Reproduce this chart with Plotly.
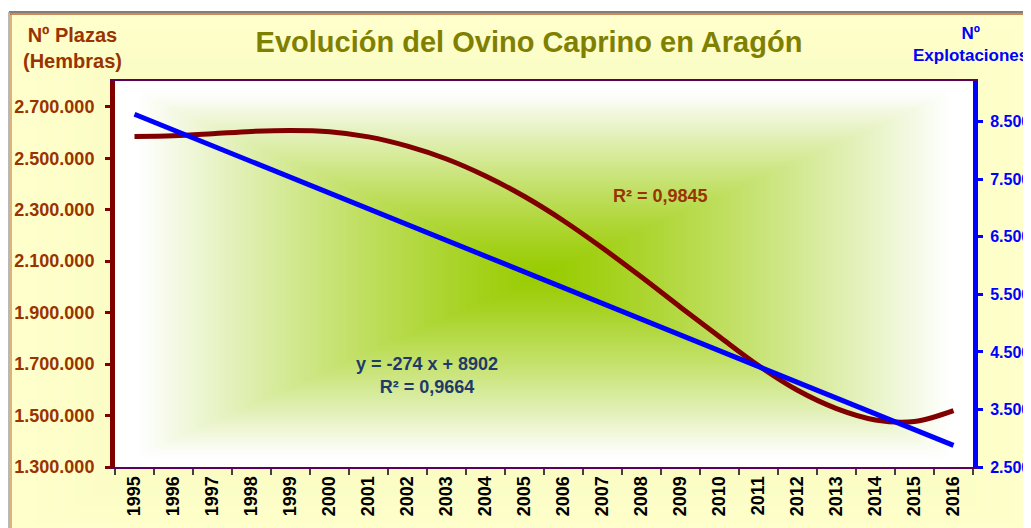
import base64
import struct
import zlib

import plotly.graph_objects as go

# data
years = [str(y) for y in range(1995, 2017)]
plazas = [2584000, 2587000, 2595000, 2604000, 2608000, 2603000, 2583000, 2547000,
          2497000, 2431000, 2351000, 2257000, 2151000, 2038000, 1921000, 1806000,
          1694000, 1598000, 1527000, 1483000, 1477000, 1519000]
explotaciones = [8630, 8355, 8080, 7810, 7535, 7260, 6985, 6710, 6440, 6165, 5890,
                 5615, 5340, 5070, 4795, 4520, 4245, 3970, 3700, 3425, 3150, 2875]
eq_text = "y = -274 x + 8902<br>R² = 0,9664"
r2_text = "R² = 0,9845"

# the page body has an 8px margin, so the figure starts at (8, 8)
OFF = 8
FW, FH = 1031 - OFF, 528 - OFF
# plot area in page pixels
L, R, T, B = 115, 973, 81, 467
W, H = R - L, B - T


def px_x(x):
    return (x - L) / W


def px_y(y):
    return (B - y) / H


def png_uri(w, h, fn):
    raw = b"".join(b"\x00" + bytes(c for x in range(w) for c in fn(x, y)) for y in range(h))

    def chunk(t, d):
        return struct.pack(">I", len(d)) + t + d + struct.pack(">I", zlib.crc32(t + d) & 0xffffffff)

    png = (b"\x89PNG\r\n\x1a\n" + chunk(b"IHDR", struct.pack(">IIBBBBB", w, h, 8, 2, 0, 0, 0))
           + chunk(b"IDAT", zlib.compress(raw, 9)) + chunk(b"IEND", b""))
    return "data:image/png;base64," + base64.b64encode(png).decode()


def from_center(w, h, inner, outer, scale=1.0, gamma=1.0):
    def fn(x, y):
        dx = abs(x - (w - 1) / 2) / ((w - 1) / 2)
        dy = abs(y - (h - 1) / 2) / ((h - 1) / 2)
        t = min(1.0, max(dx, dy) / scale) ** gamma
        return tuple(int(round(a + (b - a) * t)) for a, b in zip(inner, outer))
    return fn


plot_bg = png_uri(143, 65, from_center(143, 65, (153, 204, 0), (255, 255, 255), 0.95, 1.2))
panel_bg = png_uri(104, 54, from_center(104, 54, (236, 244, 170), (255, 255, 204)))

red = "#800000"
brown = "#993300"
blue = "#0000FF"

fig = go.Figure()
fig.add_trace(go.Scatter(x=years, y=plazas, mode="lines", line=dict(color=red, width=5, shape="spline"),
                         name="Plazas", yaxis="y"))
fig.add_trace(go.Scatter(x=years, y=explotaciones, mode="lines", line=dict(color=blue, width=5),
                         name="Explotaciones", yaxis="y2"))

bold = dict(family="Liberation Sans, Arial, sans-serif", weight=700)

fig.update_layout(
    width=FW, height=FH,
    margin=dict(l=L - OFF, r=1031 - R, t=T - OFF, b=528 - B),
    paper_bgcolor="white", plot_bgcolor="rgba(0,0,0,0)",
    separators=",.",
    showlegend=False,
    title=dict(text="Evolución del Ovino Caprino en Aragón", x=px_x(529), xref="paper",
               y=1 - (42 - OFF) / FH, yref="container", xanchor="center", yanchor="middle",
               font=dict(size=29, color="#808000", **bold)),
    xaxis=dict(type="category", range=[-0.5, 21.5], tickangle=-90, tickson="boundaries",
               ticks="outside", ticklen=6, tickwidth=1.5, tickcolor="#404040", automargin=False,
               showline=True, linecolor="#5C005C", linewidth=2, mirror=True,
               showgrid=False, tickfont=dict(size=18, color="black", **bold)),
    yaxis=dict(range=[1300000, 2800000], tick0=1300000, dtick=200000, tickformat=",d",
               showgrid=False, zeroline=False, showline=True, linecolor=red, linewidth=5,
               ticks="outside", ticklen=5, tickwidth=3, tickcolor=red, automargin=False,
               ticklabelstandoff=7, tickfont=dict(size=18, color=brown, **bold)),
    yaxis2=dict(range=[2500, 9207], tick0=2500, dtick=1000, tickformat=",d", overlaying="y",
                side="right", showgrid=False, zeroline=False, showline=True, linecolor=blue,
                linewidth=5, ticks="outside", ticklen=5, tickwidth=3, tickcolor=blue,
                automargin=False, ticklabelstandoff=4, tickfont=dict(size=16, color=blue, **bold)),
    images=[
        dict(source=panel_bg, xref="paper", yref="paper", x=px_x(10), y=px_y(13),
             sizex=px_x(1040) - px_x(10), sizey=px_y(13) - px_y(540), sizing="stretch",
             xanchor="left", yanchor="top", layer="below"),
        dict(source=plot_bg, xref="paper", yref="paper", x=0, y=1, sizex=1, sizey=1,
             sizing="stretch", xanchor="left", yanchor="top", layer="below"),
    ],
    shapes=[
        dict(type="line", xref="paper", yref="paper", x0=px_x(9), x1=px_x(1040),
             y0=px_y(12), y1=px_y(12), line=dict(color="#7F7F7F", width=2)),
        dict(type="line", xref="paper", yref="paper", x0=px_x(10), x1=px_x(1040),
             y0=px_y(14), y1=px_y(14), line=dict(color="#C0642A", width=1.5)),
        dict(type="line", xref="paper", yref="paper", x0=px_x(9), x1=px_x(9),
             y0=px_y(12), y1=px_y(540), line=dict(color="#A0A0A0", width=1.5)),
        dict(type="line", xref="paper", yref="paper", x0=px_x(11), x1=px_x(11),
             y0=px_y(14), y1=px_y(540), line=dict(color="#C0642A", width=1)),
    ],
    annotations=[
        dict(text="Nº Plazas<br>(Hembras)", xref="paper", yref="paper", x=px_x(72), y=px_y(48),
             showarrow=False, xanchor="center", yanchor="middle",
             font=dict(size=20, color=brown, **bold)),
        dict(text="Nº<br>Explotaciones", xref="paper", yref="paper", x=px_x(970), y=px_y(44),
             showarrow=False, xanchor="center", yanchor="middle",
             font=dict(size=17, color=blue, **bold)),
        dict(text=r2_text, xref="paper", yref="paper", x=px_x(660), y=px_y(196),
             showarrow=False, xanchor="center", yanchor="middle",
             font=dict(size=18, color=brown, **bold)),
        dict(text=eq_text, xref="paper", yref="paper", x=px_x(427), y=px_y(375),
             showarrow=False, xanchor="center", yanchor="middle",
             font=dict(size=18, color="#1F3A68", **bold)),
    ],
)

fig.write_html("out.html")
